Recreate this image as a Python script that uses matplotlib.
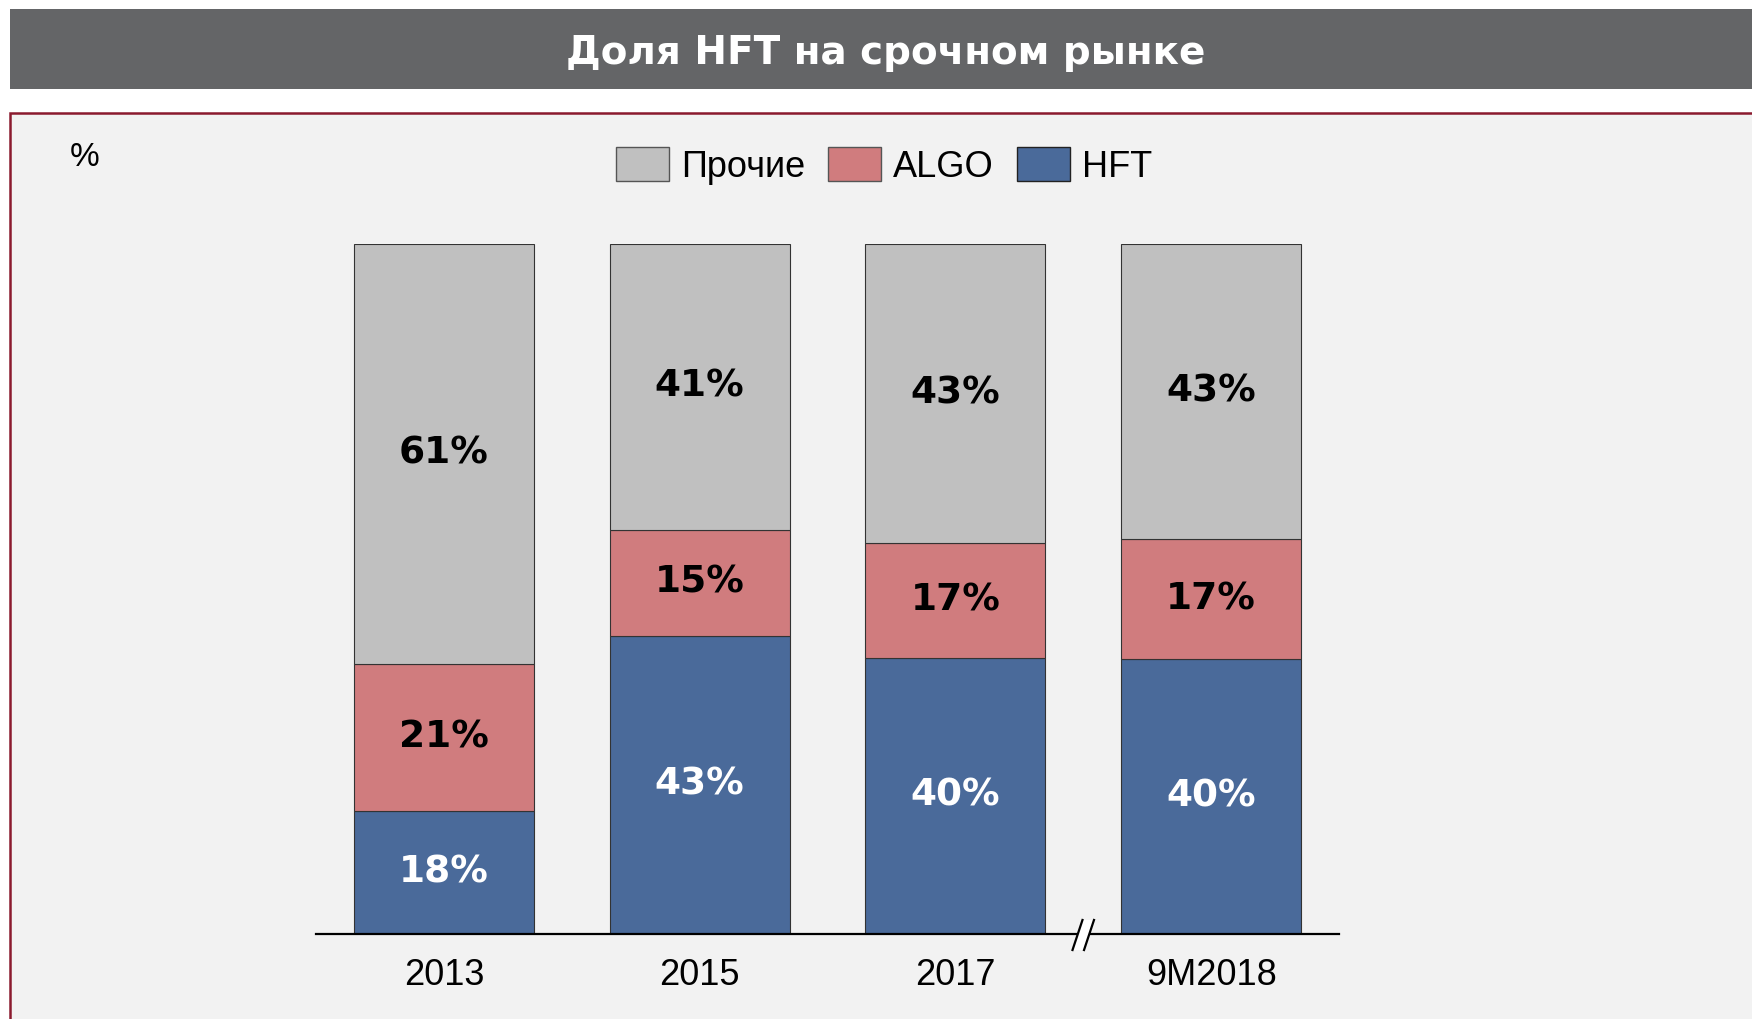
import matplotlib.pyplot as plt
from matplotlib.patches import Rectangle, Patch, Polygon

plt.rcParams['font.family'] = ['Liberation Sans', 'DejaVu Sans']

years = ["2013", "2015", "2017", "9M2018"]
hft = [17.8, 43.2, 40.0, 39.8]
algo = [21.4, 15.4, 16.6, 17.4]
other = [60.8, 41.4, 43.4, 42.8]

c_other = "#c0c0c0"
c_algo = "#d07c7e"
c_hft = "#4a6a9a"

W, H = 1752, 1019
fig = plt.figure(figsize=(W / 100, H / 100), dpi=100)
fig.patch.set_facecolor("white")

# title bar
fig.patches.append(Rectangle((10 / W, 1 - 89 / H), 1742 / W, 80 / H,
                             transform=fig.transFigure, facecolor="#646567",
                             edgecolor="none", zorder=-10))
fig.text(886 / W, 1 - 53 / H, "Доля HFT на срочном рынке", ha="center", va="center",
         color="white", fontsize=28, fontweight="bold", family="DejaVu Sans")

# panel
fig.patches.append(Rectangle((10 / W, -0.01), 1.0, 1 - 113 / H + 0.01,
                             transform=fig.transFigure, facecolor="#f2f2f2",
                             edgecolor="#8b1a2e", linewidth=1.8, zorder=-10))
fig.text(85 / W, 1 - 158 / H, "%", ha="center", va="center", fontsize=24)

ax = fig.add_axes([316 / W, 1 - 934 / H, (1339 - 316) / W, (934 - 244) / H])
ax.set_facecolor("none")
x = range(len(years))
bw = 180 / 256
ax.bar(x, hft, bw, color=c_hft, edgecolor="#333333", linewidth=0.8, zorder=2)
ax.bar(x, algo, bw, bottom=hft, color=c_algo, edgecolor="#333333", linewidth=0.8, zorder=2)
bot2 = [a + b for a, b in zip(hft, algo)]
ax.bar(x, other, bw, bottom=bot2, color=c_other, edgecolor="#333333", linewidth=0.8, zorder=2)

lab = dict(ha="center", va="center", fontsize=27, fontweight="bold",
           family="DejaVu Sans", zorder=3)
for i in x:
    ax.text(i, hft[i] / 2, "%.0f%%" % hft[i], color="white", **lab)
    ax.text(i, hft[i] + algo[i] / 2, "%.0f%%" % algo[i], color="black", **lab)
    ax.text(i, bot2[i] + other[i] / 2, "%.0f%%" % other[i], color="black", **lab)

ax.set_xlim(-0.5, 3.5)
ax.set_ylim(0, 100)
ax.set_yticks([])
ax.set_xticks(list(x))
ax.set_xticklabels(years, fontsize=26)
ax.tick_params(axis="x", length=0, pad=17)
for s in ["top", "right", "left"]:
    ax.spines[s].set_visible(False)
ax.spines["bottom"].set_linewidth(1.6)
ax.spines["bottom"].set_zorder(4)

# axis break between 2017 and 9M2018
bx = 2.5
dx, dy1, dy2 = 0.0195, 2.03, -2.32
sep = 0.045
ax.add_patch(Polygon([(bx - sep / 2 - dx, dy2), (bx - sep / 2 + dx, dy1),
                      (bx + sep / 2 + dx, dy1), (bx + sep / 2 - dx, dy2)],
                     closed=True, facecolor="white", edgecolor="none",
                     clip_on=False, zorder=5))
for o in (-sep / 2, sep / 2):
    ax.plot([bx + o - dx, bx + o + dx], [dy2, dy1], color="black", lw=1.6,
            clip_on=False, zorder=6)

handles = [Patch(facecolor=c_other, edgecolor="#555555", label="Прочие"),
           Patch(facecolor=c_algo, edgecolor="#555555", label="ALGO"),
           Patch(facecolor=c_hft, edgecolor="#222222", label="HFT")]
fig.legend(handles=handles, loc="center", bbox_to_anchor=(884 / W, 1 - 166 / H), ncol=3,
           frameon=False, fontsize=26, handlelength=1.47, handleheight=1.06,
           handletextpad=0.32, columnspacing=0.65)

fig.savefig("out.png", dpi=100)
